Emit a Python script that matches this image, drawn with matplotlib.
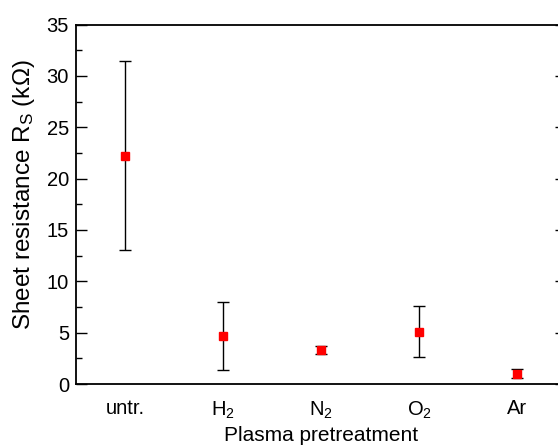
import matplotlib
matplotlib.use("Agg")
import matplotlib.pyplot as plt
from matplotlib.ticker import MultipleLocator

plt.rcParams['font.family'] = ['Liberation Sans', 'DejaVu Sans']
plt.rcParams['mathtext.fontset'] = 'custom'
plt.rcParams['mathtext.rm'] = 'Liberation Sans'
plt.rcParams['mathtext.it'] = 'Liberation Sans'

# Sheet resistance after different plasma pretreatments
treatments = ["untr.", r"H$_2$", r"N$_2$", r"O$_2$", "Ar"]
rs_mean = [22.2, 4.7, 3.3, 5.1, 1.0]
rs_err = [9.2, 3.3, 0.4, 2.45, 0.45]

fig = plt.figure(figsize=(5.58, 4.47), dpi=100)
ax = fig.add_axes([76 / 558, 1 - 384 / 447, (566 - 76) / 558, (384 - 24.5) / 447])

x = list(range(1, len(treatments) + 1))
ax.errorbar(x, rs_mean, yerr=rs_err, fmt='s', color='red', markersize=6,
            ecolor='black', elinewidth=1.0, capsize=4, capthick=1.0, zorder=3)

ax.set_xlim(0.5, 5.5)
ax.set_ylim(0, 35)
ax.set_xticks(x)
ax.set_xticklabels(treatments)
ax.yaxis.set_major_locator(MultipleLocator(5))
ax.yaxis.set_minor_locator(MultipleLocator(2.5))

for s in ax.spines.values():
    s.set_linewidth(1.3)

ax.tick_params(axis='x', length=0, pad=11, labelsize=14.5)
ax.tick_params(axis='y', which='major', direction='in', length=8, width=1.0,
               labelsize=14.5, pad=5, right=True)
ax.tick_params(axis='y', which='minor', direction='in', length=4, width=1.0)

ax.set_xlabel("Plasma pretreatment", fontsize=15, labelpad=4)
ax.set_ylabel(r"Sheet resistance R$_\mathrm{S}$ (k$\Omega$)", fontsize=17.5)
ax.yaxis.set_label_coords(-0.079, 0.528)

fig.savefig("out.png", dpi=100)
